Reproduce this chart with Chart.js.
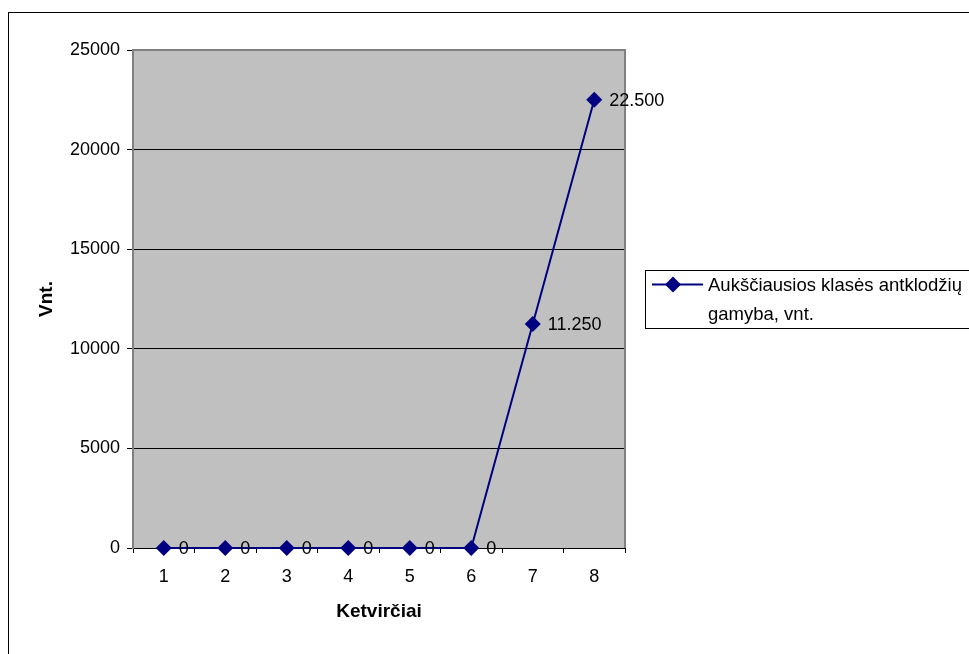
<!DOCTYPE html>
<html>
<head>
<meta charset="utf-8">
<script src="https://cdn.jsdelivr.net/npm/chart.js@4/dist/chart.umd.min.js"></script>
<style>
  html, body { margin: 0; padding: 0; background: #fff; }
  #wrap { width: 969px; height: 654px; }
</style>
</head>
<body>
<div id="wrap"><canvas id="c" width="969" height="654"></canvas></div>
<script>
const quarters = ['1', '2', '3', '4', '5', '6', '7', '8'];
const production = [0, 0, 0, 0, 0, 0, 11250, 22500];
const seriesName = 'Aukščiausios klasės antklodžių gamyba, vnt.';
const legendLines = ['Aukščiausios klasės antklodžių', 'gamyba, vnt.'];
const yTitle = 'Vnt.';
const xTitle = 'Ketvirčiai';

const FONT = '"Liberation Sans", Arial, sans-serif';
const NAVY = '#000080';

// thousands separated with a dot, as in the labels
function fmt(v) {
  return String(Math.round(v)).replace(/\B(?=(\d{3})+(?!\d))/g, '.');
}

const framePlugin = {
  id: 'frame',
  beforeDraw(chart) {
    const { ctx, chartArea: a } = chart;
    ctx.save();
    ctx.fillStyle = '#ffffff';
    ctx.fillRect(0, 0, chart.width, chart.height);
    ctx.fillStyle = '#c0c0c0';
    ctx.fillRect(a.left, a.top, a.right - a.left, a.bottom - a.top);
    ctx.restore();
  },
  beforeDatasetsDraw(chart) {
    const { ctx, chartArea: a } = chart;
    ctx.save();
    ctx.strokeStyle = '#808080';
    ctx.lineWidth = 2;
    ctx.beginPath();
    ctx.moveTo(a.left, a.top);
    ctx.lineTo(a.right, a.top);
    ctx.lineTo(a.right, a.bottom);
    ctx.stroke();
    ctx.restore();
  },
  afterDraw(chart) {
    const { ctx } = chart;
    ctx.save();
    // data labels to the right of each point
    const meta = chart.getDatasetMeta(0);
    ctx.fillStyle = '#000';
    ctx.font = '18px ' + FONT;
    ctx.textAlign = 'left';
    ctx.textBaseline = 'middle';
    meta.data.forEach((pt, i) => {
      ctx.fillText(fmt(chart.data.datasets[0].data[i]), pt.x + 15, pt.y + 1);
    });

    // legend box
    const lx = 645, ly = 270, lw = 340, lh = 58;
    ctx.strokeStyle = '#000';
    ctx.lineWidth = 1;
    ctx.strokeRect(lx + 0.5, ly + 0.5, lw, lh);
    const sy = ly + 14.5;
    ctx.strokeStyle = NAVY;
    ctx.lineWidth = 2;
    ctx.beginPath();
    ctx.moveTo(lx + 7, sy);
    ctx.lineTo(lx + 58, sy);
    ctx.stroke();
    const cx = lx + 28, r = 8;
    ctx.fillStyle = NAVY;
    ctx.beginPath();
    ctx.moveTo(cx, sy - r);
    ctx.lineTo(cx + r, sy);
    ctx.lineTo(cx, sy + r);
    ctx.lineTo(cx - r, sy);
    ctx.closePath();
    ctx.fill();
    ctx.fillStyle = '#000';
    ctx.font = '18.5px ' + FONT;
    legendLines.forEach((t, i) => ctx.fillText(t, lx + 63, sy + 1 + i * 29));

    // outer frame
    ctx.strokeStyle = '#000';
    ctx.lineWidth = 1;
    ctx.strokeRect(8.5, 12.5, 1000, 700);
    ctx.restore();
  }
};

new Chart(document.getElementById('c'), {
  type: 'line',
  data: {
    labels: quarters,
    datasets: [{
      label: seriesName,
      data: production,
      borderColor: NAVY,
      backgroundColor: NAVY,
      borderWidth: 2,
      pointStyle: 'rectRot',
      pointRadius: 8,
      pointBackgroundColor: NAVY,
      pointBorderColor: NAVY,
      pointBorderWidth: 0,
      tension: 0,
      fill: false,
      clip: false
    }]
  },
  options: {
    responsive: false,
    animation: false,
    events: [],
    layout: { padding: { left: 0, top: 50, right: 344, bottom: 0 } },
    plugins: {
      legend: { display: false },
      tooltip: { enabled: false }
    },
    scales: {
      x: {
        type: 'category',
        offset: true,
        afterFit(s) { s.height = 106; },
        grid: {
          offset: true,
          drawOnChartArea: false,
          drawTicks: true,
          tickLength: 5,
          color: '#000'
        },
        border: { display: true, color: '#000', width: 1 },
        ticks: {
          color: '#000',
          font: { family: FONT, size: 18 },
          padding: 13,
          maxRotation: 0
        },
        title: {
          display: true,
          text: xTitle,
          color: '#000',
          font: { family: FONT, size: 19, weight: 'bold' },
          padding: { top: 0, bottom: 30.6 }
        }
      },
      y: {
        min: 0,
        max: 25000,
        afterFit(s) { s.width = 133; },
        grid: {
          color: (c) => (c.tick && c.tick.value === 25000 ? '#808080' : '#000'),
          lineWidth: 1,
          drawTicks: true,
          tickLength: 6,
          tickColor: '#000'
        },
        border: { display: true, color: '#808080', width: 2 },
        ticks: {
          stepSize: 5000,
          color: '#000',
          font: { family: FONT, size: 18 },
          padding: 7,
          callback: (v) => String(v)
        },
        title: {
          display: true,
          text: yTitle,
          color: '#000',
          font: { family: FONT, size: 19, weight: 'bold' },
          padding: { top: 35.6, bottom: 0 }
        }
      }
    }
  },
  plugins: [framePlugin]
});
</script>
</body>
</html>
